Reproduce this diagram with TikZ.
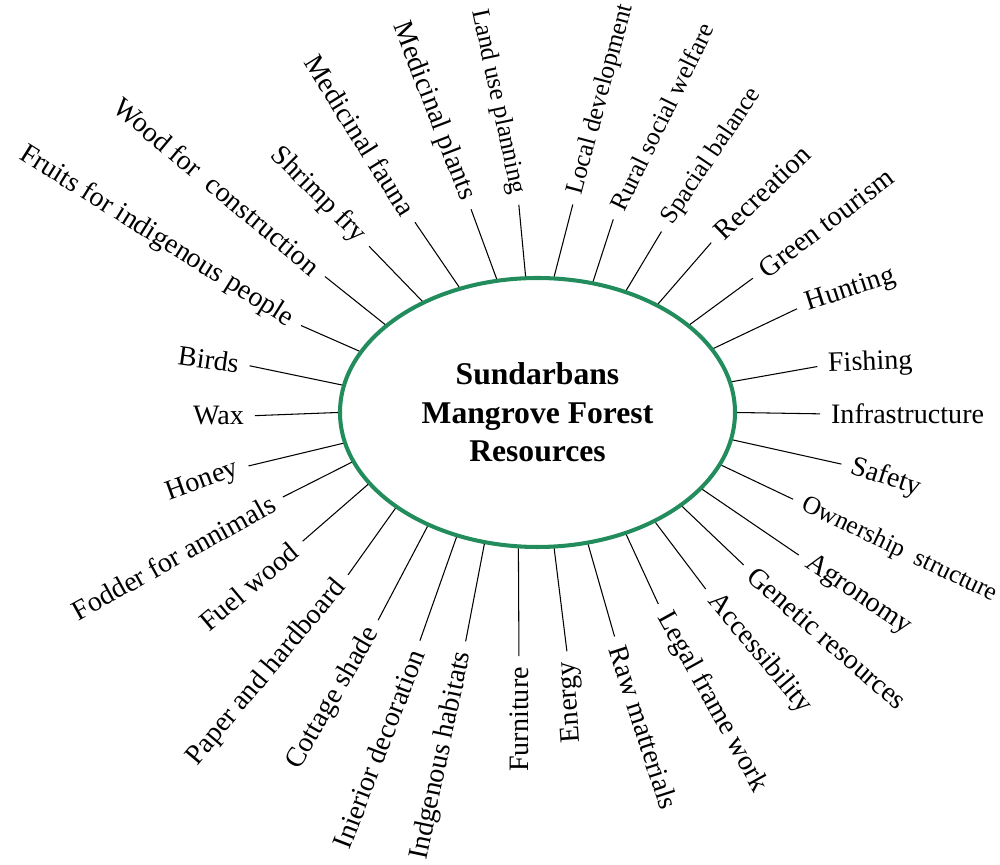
\documentclass[tikz,border=0pt]{standalone}
\usepackage{fontspec}
\setmainfont{Liberation Serif}
\usetikzlibrary{shapes.geometric}

\definecolor{mangrove}{RGB}{35,140,92}

\begin{document}
\begin{tikzpicture}[
    hub/.style={ellipse, draw=mangrove, line width=2.3pt, minimum width=7.9cm, minimum height=5.38cm,
        align=center, font=\fontsize{18}{22}\selectfont\bfseries},
    lbl/.style={font=\fontsize{16}{18}\selectfont, inner sep=1pt},
    lblin/.style={lbl, anchor=east},
    lblout/.style={lbl, anchor=west},
    lblsm/.style={font=\fontsize{14.5}{16}\selectfont},
    spoke/.style={line width=0.6pt, shorten >=5pt}
]
    \useasboundingbox (-10.75,-9.05) rectangle (9.25,8.25);

    % Centre
    \node[hub] (res) at (0,0) {Sundarbans\\Mangrove Forest\\Resources};

    % Upper left
    \node[lblin, rotate=-32] (fruits) at (-4.89, 1.81) {Fruits for indigenous people};
    \node[lblin, rotate=-40] (wood) at (-4.39, 2.83) {Wood for\ \ construction};
    \node[lblin, rotate=-45] (shrimp) at (-3.49, 3.45) {Shrimp fry};
    \node[lblin, rotate=-58] (fauna) at (-2.55, 3.95) {Medicinal fauna};
    \node[lblin, rotate=-69] (plants) at (-1.39, 4.23) {Medicinal plants};
    \node[lblin, lblsm, rotate=-78] (landuse) at (-0.39, 4.33) {Land use planning};

    % Upper right
    \node[lblout, lblsm, rotate=75] (localdev) at (0.75, 4.33) {Local development};
    \node[lblout, lblsm, rotate=64] (rural) at (1.57, 4.03) {Rural social welfare};
    \node[lblout, lblsm, rotate=56] (spacial) at (2.57, 3.77) {Spacial balance};
    \node[lblout, rotate=44] (recreation) at (3.59, 3.53) {Recreation};
    \node[lblout, rotate=37] (green) at (4.45, 2.79) {Green tourism};
    \node[lblout, rotate=18] (hunting) at (5.35, 2.15) {Hunting};
    \node[lblout, rotate=2] (fishing) at (5.77, 0.95) {Fishing};
    \node[lblout] (infra) at (5.83, -0.03) {Infrastructure};

    % Lower right
    \node[lblout, rotate=-18] (safety) at (6.25, -1.07) {Safety};
    \node[lblout, lblsm, rotate=-25.5] (owner) at (5.27, -1.81) {Ownership\ \ structure};
    \node[lblout, rotate=-34] (agro) at (5.37, -2.95) {Agronomy};
    \node[lblout, rotate=-41] (genetic) at (4.25, -3.17) {Genetic resources};
    \node[lblout, rotate=-50] (access) at (3.47, -3.67) {Accessibility};
    \node[lblout, rotate=-61] (legal) at (2.49, -3.99) {Legal frame work};
    \node[lblout, rotate=-72] (raw) at (1.59, -4.65) {Raw matterials};

    % Lower left
    \node[lblin, rotate=94] (energy) at (0.61, -4.95) {Energy};
    \node[lblin, rotate=90] (furniture) at (-0.37, -5.05) {Furniture};
    \node[lblin, rotate=78] (habitats) at (-1.47, -4.75) {Indgenous habitats};
    \node[lblin, rotate=69] (decor) at (-2.41, -4.73) {Inierior decoration};
    \node[lblin, rotate=60] (cottage) at (-3.27, -4.31) {Cottage shade};
    \node[lblin, rotate=50] (paper) at (-3.89, -3.39) {Paper and hardboard};
    \node[lblin, rotate=40] (fuel) at (-4.83, -2.69) {Fuel wood};
    \node[lblin, rotate=29] (fodder) at (-5.25, -1.77) {Fodder for annimals};
    \node[lblin, rotate=20] (honey) at (-5.95, -1.11) {Honey};
    \node[lblin] (wax) at (-5.83, -0.07) {Wax};
    \node[lblin, rotate=-8] (birds) at (-5.93, 0.97) {Birds};

    % Spokes
    \draw[spoke] (res.161) -- (fruits.east);
    \draw[spoke] (res.150) -- (wood.east);
    \draw[spoke] (res.136) -- (shrimp.east);
    \draw[spoke] (res.122) -- (fauna.east);
    \draw[spoke] (res.107) -- (plants.east);
    \draw[spoke] (res.95) -- (landuse.east);
    \draw[spoke] (res.83) -- (localdev.west);
    \draw[spoke] (res.67) -- (rural.west);
    \draw[spoke] (res.54) -- (spacial.west);
    \draw[spoke] (res.42) -- (recreation.west);
    \draw[spoke] (res.30) -- (green.west);
    \draw[spoke] (res.20) -- (hunting.west);
    \draw[spoke] (res.9) -- (fishing.west);
    \draw[spoke] (res.0) -- (infra.west);
    \draw[spoke] (res.-8.5) -- (safety.west);
    \draw[spoke] (res.-16) -- (owner.west);
    \draw[spoke] (res.-25) -- (agro.west);
    \draw[spoke] (res.-33) -- (genetic.west);
    \draw[spoke] (res.-43) -- (access.west);
    \draw[spoke] (res.-54.5) -- (legal.west);
    \draw[spoke] (res.-69) -- (raw.west);
    \draw[spoke] (res.-83) -- (energy.east);
    \draw[spoke] (res.-98) -- (furniture.east);
    \draw[spoke] (res.-112) -- (habitats.east);
    \draw[spoke] (res.-123) -- (decor.east);
    \draw[spoke] (res.-134) -- (cottage.east);
    \draw[spoke] (res.-146.5) -- (paper.east);
    \draw[spoke] (res.-157) -- (fuel.east);
    \draw[spoke] (res.-165) -- (fodder.east);
    \draw[spoke] (res.-171) -- (honey.east);
    \draw[spoke] (res.180) -- (wax.east);
    \draw[spoke] (res.172.5) -- (birds.east);
\end{tikzpicture}
\end{document}
